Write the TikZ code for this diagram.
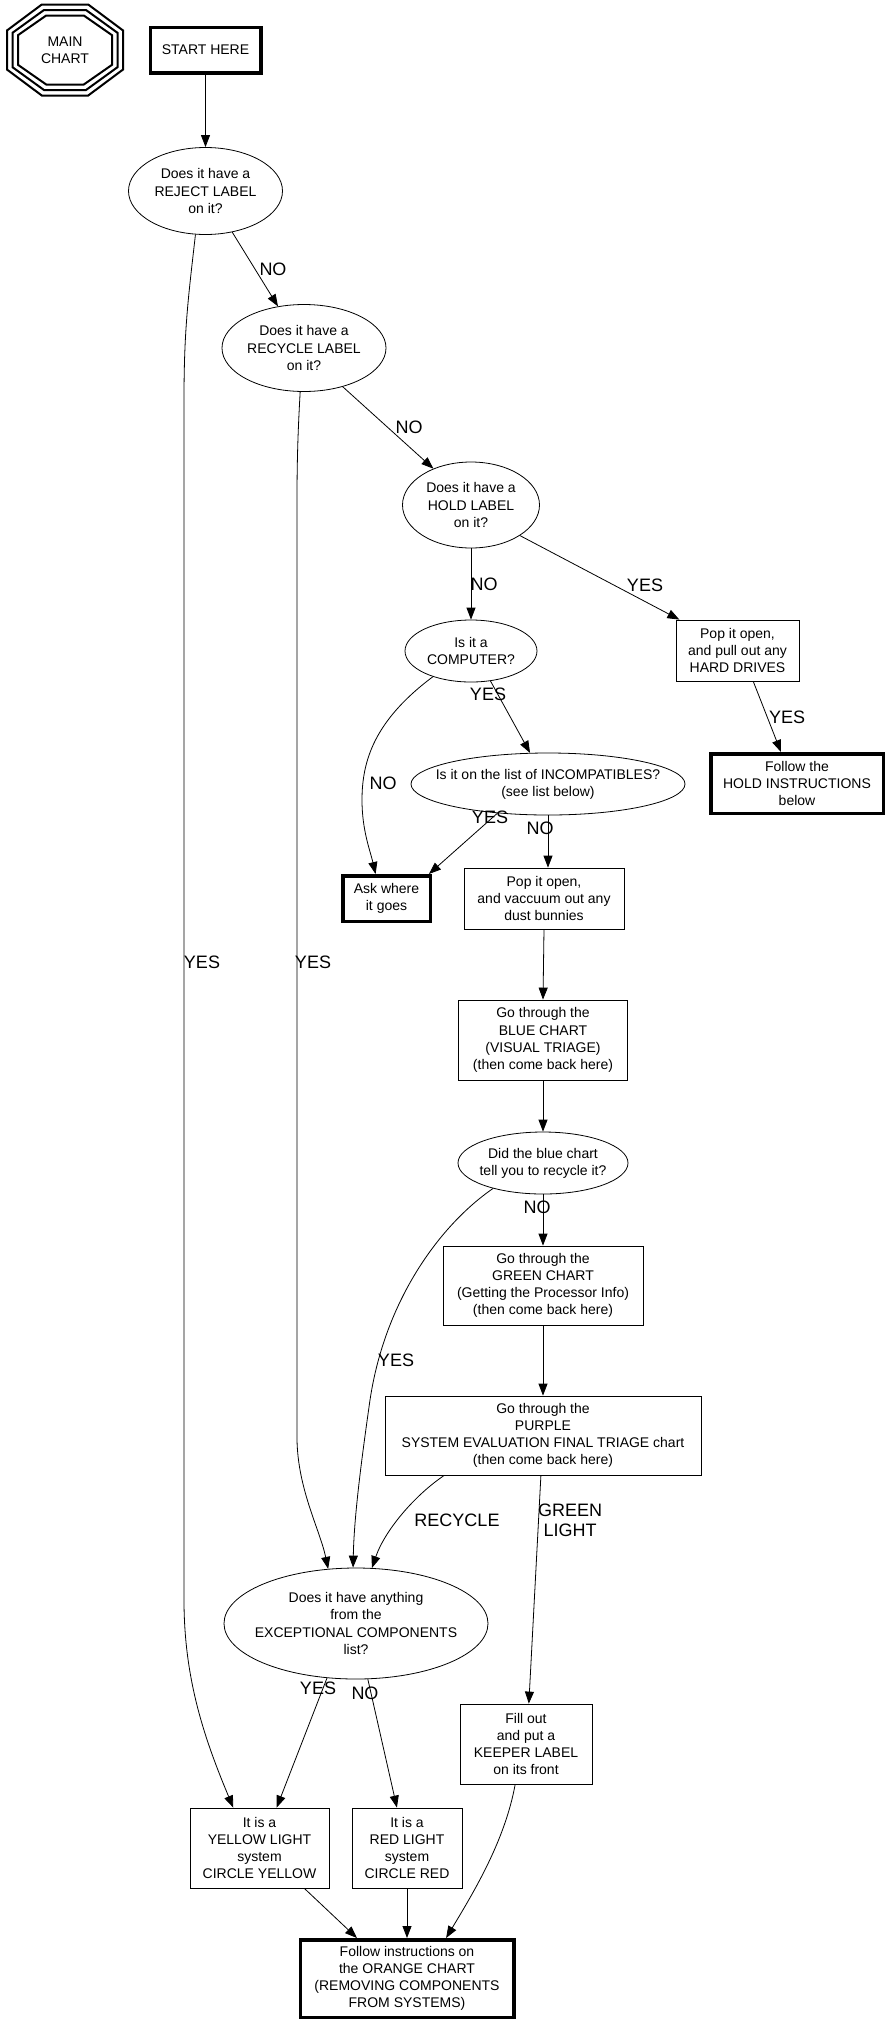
\documentclass[tikz,border=0pt]{standalone}
\usepackage{fontspec}
\setmainfont{Liberation Sans}
\usetikzlibrary{positioning}
\usetikzlibrary{shapes.geometric}
\usetikzlibrary{calc}
\usetikzlibrary{arrows.meta}

\begin{document}
\begin{tikzpicture}[x=1pt, y=-1pt,
	every node/.style={font=\fontsize{14}{17.2}\selectfont, align=center, inner sep=0pt},
	stepbox/.style={rectangle, draw, line width=0.8pt},
	stopbox/.style={rectangle, draw, line width=3.5pt},
	question/.style={ellipse, draw, line width=0.8pt, inner xsep=-60pt},
	edgelabel/.style={font=\fontsize{18}{20}\selectfont},
	flow/.style={line width=0.8pt, -{Triangle[length=12pt, width=9pt]}}]
	\useasboundingbox[fill=white] (0,0) rectangle (891,2024);

	% Title
	\node (main) at (65,50) {MAIN\\CHART};
	\foreach \d in {0,5.5,11} {
		\pgfmathsetmacro{\ow}{58-\d}
		\pgfmathsetmacro{\oh}{45.5-\d}
		\draw[line width=2pt, shift={(main.center)}]
			({-0.4*\ow},{-\oh}) -- ({0.4*\ow},{-\oh}) -- ({\ow},{-0.43*\oh}) -- ({\ow},{0.43*\oh})
			-- ({0.4*\ow},{\oh}) -- ({-0.4*\ow},{\oh}) -- ({-\ow},{0.43*\oh}) -- ({-\ow},{-0.43*\oh}) -- cycle;
	}

	% Labels
	\node [stopbox, minimum width=110.5pt, minimum height=45.5pt] at (205.5,50) (start) {START HERE};
	\node [question, minimum width=154pt, minimum height=87pt] at (205.5,191) (reject) {Does it have a\\REJECT LABEL\\on it?};
	\node [question, minimum width=164pt, minimum height=87pt] at (304,348) (recycle) {Does it have a\\RECYCLE LABEL\\on it?};
	\node [question, minimum width=137pt, minimum height=86pt] at (471,505) (hold) {Does it have a\\HOLD LABEL\\on it?};

	% Hold and computer checks
	\node [question, minimum width=132pt, minimum height=62pt] at (471,651) (computer) {Is it a\\COMPUTER?};
	\node [stepbox, minimum width=123pt, minimum height=61pt] at (737.5,650.5) (pophd) {Pop it open,\\and pull out any\\HARD DRIVES};
	\node [stopbox, minimum width=172.5pt, minimum height=59.5pt] at (797,783.5) (holdinstr) {Follow the\\HOLD INSTRUCTIONS\\below};
	\node [question, minimum width=274pt, minimum height=62pt] at (548,784) (incompat) {Is it on the list of INCOMPATIBLES?\\(see list below)};
	\node [stopbox, minimum width=87.5pt, minimum height=45.5pt] at (386.5,898.5) (ask) {Ask where\\it goes};
	\node [stepbox, minimum width=160pt, minimum height=61pt] at (544,898.5) (dust) {Pop it open,\\and vaccuum out any\\dust bunnies};

	% Colour charts
	\node [stepbox, minimum width=169pt, minimum height=80pt] at (543,1040) (bluechart) {Go through the\\BLUE CHART\\(VISUAL TRIAGE)\\(then come back here)};
	\node [question, minimum width=170pt, minimum height=62pt] at (543,1163) (blueq) {Did the blue chart\\tell you to recycle it?};
	\node [stepbox, minimum width=200pt, minimum height=79pt] at (543,1285.5) (greenchart) {Go through the\\GREEN CHART\\(Getting the Processor Info)\\(then come back here)};
	\node [stepbox, minimum width=316pt, minimum height=79pt] at (543,1435.5) (purple) {Go through the\\PURPLE\\SYSTEM EVALUATION FINAL TRIAGE chart\\(then come back here)};

	% Final sorting
	\node [question, minimum width=264pt, minimum height=111pt] at (356,1623.5) (exc) {Does it have anything\\from the\\EXCEPTIONAL COMPONENTS\\list?};
	\node [stepbox, minimum width=132pt, minimum height=80pt] at (526,1744) (keeper) {Fill out\\and put a\\KEEPER LABEL\\on its front};
	\node [stepbox, minimum width=139pt, minimum height=80pt] at (259.5,1848) (yellow) {It is a\\YELLOW LIGHT\\system\\CIRCLE YELLOW};
	\node [stepbox, minimum width=110pt, minimum height=80pt] at (407,1848) (red) {It is a\\RED LIGHT\\system\\CIRCLE RED};
	\node [stopbox, minimum width=213.5pt, minimum height=77.5pt] at (407,1978.5) (orange) {Follow instructions on\\the ORANGE CHART\\(REMOVING COMPONENTS\\FROM SYSTEMS)};

	% Connections
	\draw[flow] (node cs:name=start, anchor=south) -- (node cs:name=reject, anchor=north);
	\draw[flow] (reject.-57) -- (recycle.122) node[edgelabel] at (273,269) {NO};
	\draw[flow] (reject.-103) .. controls (188,300) and (184,330) .. (184,400) -- (184,1600) .. controls (184,1680) and (205,1740) .. (yellow.123) node[edgelabel] at (202,962) {YES};
	\draw[flow] (recycle.-45) -- (hold.136) node[edgelabel] at (409,427) {NO};
	\draw[flow] (recycle.-95) .. controls (298,430) and (297,460) .. (297,500) -- (297,1440) .. controls (298,1490) and (320,1530) .. (exc.117) node[edgelabel] at (313,962) {YES};
	\draw[flow] (node cs:name=hold, anchor=south) -- (node cs:name=computer, anchor=north) node[edgelabel] at (484,584) {NO};
	\draw[flow] (hold.-32) -- (pophd.152) node[edgelabel] at (645,585) {YES};
	\draw[flow] (pophd.-63) -- (holdinstr.117) node[edgelabel] at (787,717) {YES};
	\draw[flow] (computer.-57) -- (incompat.120) node[edgelabel] at (488,694) {YES};
	\draw[flow] (computer.-146) .. controls (375,720) and (362,760) .. (362,800) .. controls (362,830) and (370,850) .. (ask.114) node[edgelabel] at (383,783) {NO};
	\draw[flow] (incompat.-150) -- (ask.30) node[edgelabel] at (490,817) {YES};
	\draw[flow] (node cs:name=incompat, anchor=south) -- (incompat.south |- dust.north) node[edgelabel] at (540,828) {NO};
	\draw[flow] (node cs:name=dust, anchor=south) -- (node cs:name=bluechart, anchor=north);
	\draw[flow] (node cs:name=bluechart, anchor=south) -- (node cs:name=blueq, anchor=north);
	\draw[flow] (node cs:name=blueq, anchor=south) -- (node cs:name=greenchart, anchor=north) node[edgelabel] at (537,1207) {NO};
	\draw[flow] (blueq.-153) .. controls (440,1225) and (385,1300) .. (370,1400) .. controls (360,1470) and (354,1520) .. (exc.93) node[edgelabel] at (396,1360) {YES};
	\draw[flow] (node cs:name=greenchart, anchor=south) -- (node cs:name=purple, anchor=north);
	\draw[flow] (purple.-158) .. controls (415,1495) and (385,1530) .. (exc.74) node[edgelabel] at (457,1520) {RECYCLE};
	\draw[flow] (purple.-93) -- (keeper.86) node[edgelabel] at (570,1520) {GREEN\\LIGHT};
	\draw[flow] (exc.-118) -- (yellow.67) node[edgelabel] at (318,1688) {YES};
	\draw[flow] (exc.-78) -- (red.104) node[edgelabel] at (365,1693) {NO};
	\draw[flow] (yellow.-42) -- (orange.141);
	\draw[flow] (node cs:name=red, anchor=south) -- (node cs:name=orange, anchor=north);
	\draw[flow] (keeper.-105) .. controls (505,1840) and (475,1890) .. (orange.46);
\end{tikzpicture}
\end{document}
